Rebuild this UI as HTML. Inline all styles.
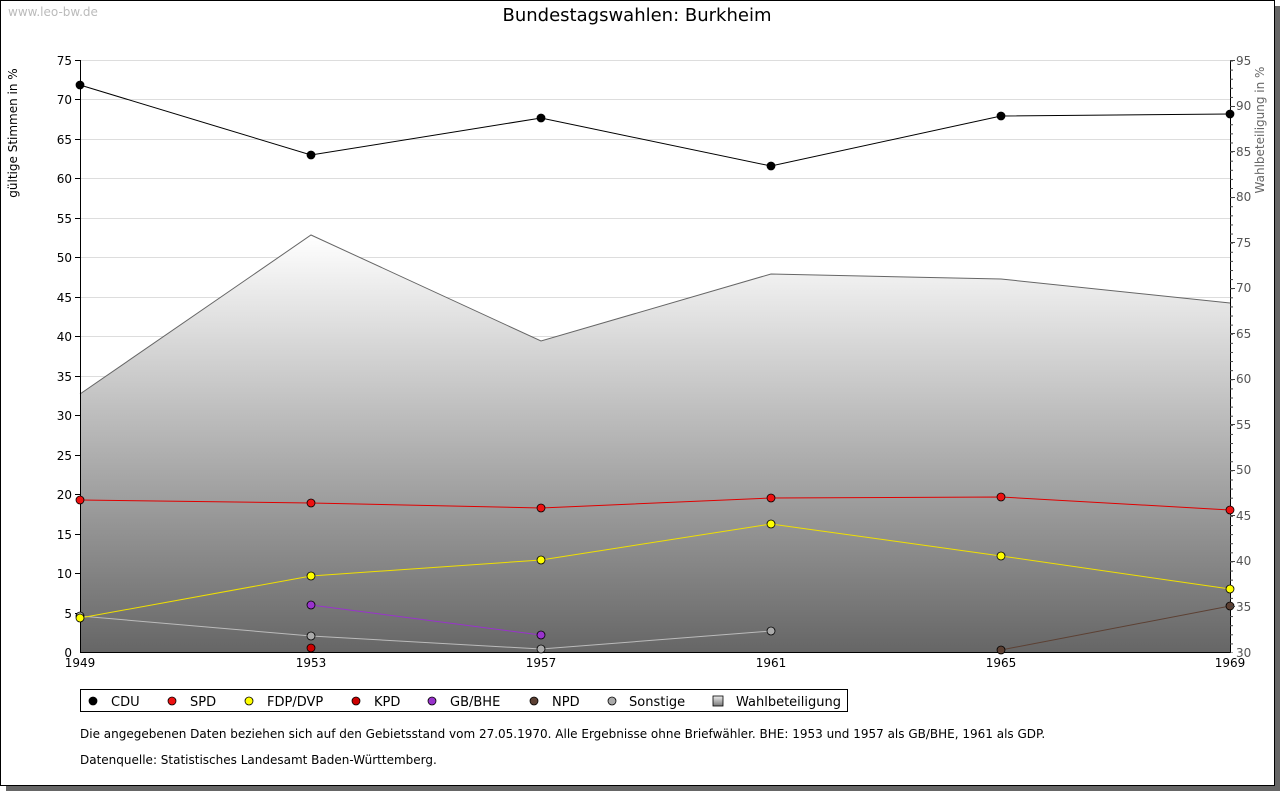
<!DOCTYPE html>
<html><head><meta charset="utf-8"><style>
html,body{margin:0;padding:0;background:#fff;}
svg{display:block;font-family:"DejaVu Sans","Liberation Sans",sans-serif;}
</style></head><body>
<svg width="1280" height="791" viewBox="0 0 1280 791" xmlns="http://www.w3.org/2000/svg">
<defs>
<linearGradient id="g" x1="0" y1="235" x2="0" y2="652" gradientUnits="userSpaceOnUse">
<stop offset="0" stop-color="#ffffff"/><stop offset="1" stop-color="#666666"/>
</linearGradient>
<linearGradient id="lg" x1="0" y1="0" x2="0" y2="1"><stop offset="0" stop-color="#eee"/><stop offset="1" stop-color="#777"/></linearGradient>
<pattern id="mt" x="1230" y="60.5" width="10" height="9.108" patternUnits="userSpaceOnUse"><line x1="0" x2="3" y1="0.5" y2="0.5" stroke="#444"/></pattern>
</defs>
<rect x="6" y="6" width="1274" height="785" fill="#666"/>
<rect x="0.5" y="0.5" width="1274" height="785" fill="#fff" stroke="#000"/>
<text x="8" y="16" font-size="12" fill="#bbb">www.leo-bw.de</text>
<text x="637" y="21" font-size="18" text-anchor="middle" fill="#000">Bundestagswahlen: Burkheim</text>
<g stroke="#ddd" stroke-width="1">
<line x1="80" x2="1230" y1="60.5" y2="60.5"/><line x1="80" x2="1230" y1="99.5" y2="99.5"/><line x1="80" x2="1230" y1="139.5" y2="139.5"/><line x1="80" x2="1230" y1="178.5" y2="178.5"/><line x1="80" x2="1230" y1="218.5" y2="218.5"/><line x1="80" x2="1230" y1="257.5" y2="257.5"/><line x1="80" x2="1230" y1="297.5" y2="297.5"/><line x1="80" x2="1230" y1="336.5" y2="336.5"/><line x1="80" x2="1230" y1="376.5" y2="376.5"/><line x1="80" x2="1230" y1="415.5" y2="415.5"/><line x1="80" x2="1230" y1="455.5" y2="455.5"/><line x1="80" x2="1230" y1="494.5" y2="494.5"/><line x1="80" x2="1230" y1="534.5" y2="534.5"/><line x1="80" x2="1230" y1="573.5" y2="573.5"/><line x1="80" x2="1230" y1="613.5" y2="613.5"/>
</g>
<polygon points="80,394 311,235 541,341 771,274 1001,279 1230,303 1230,652 80,652" fill="url(#g)"/>
<polyline points="80,394 311,235 541,341 771,274 1001,279 1230,303" fill="none" stroke="#666"/>
<line x1="80.5" y1="60" x2="80.5" y2="653" stroke="#000"/>
<line x1="80" y1="652.5" x2="1230" y2="652.5" stroke="#000"/>
<line x1="1230.5" y1="60" x2="1230.5" y2="653" stroke="#000"/>
<rect x="1230" y="60" width="3" height="593" fill="url(#mt)"/>
<g stroke="#000">
<line x1="75" x2="80" y1="60.5" y2="60.5"/><line x1="75" x2="80" y1="99.5" y2="99.5"/><line x1="75" x2="80" y1="139.5" y2="139.5"/><line x1="75" x2="80" y1="178.5" y2="178.5"/><line x1="75" x2="80" y1="218.5" y2="218.5"/><line x1="75" x2="80" y1="257.5" y2="257.5"/><line x1="75" x2="80" y1="297.5" y2="297.5"/><line x1="75" x2="80" y1="336.5" y2="336.5"/><line x1="75" x2="80" y1="376.5" y2="376.5"/><line x1="75" x2="80" y1="415.5" y2="415.5"/><line x1="75" x2="80" y1="455.5" y2="455.5"/><line x1="75" x2="80" y1="494.5" y2="494.5"/><line x1="75" x2="80" y1="534.5" y2="534.5"/><line x1="75" x2="80" y1="573.5" y2="573.5"/><line x1="75" x2="80" y1="613.5" y2="613.5"/>
</g>
<g font-size="12" fill="#000" text-anchor="end">
<text x="72" y="65">75</text><text x="72" y="104">70</text><text x="72" y="144">65</text><text x="72" y="183">60</text><text x="72" y="223">55</text><text x="72" y="262">50</text><text x="72" y="302">45</text><text x="72" y="341">40</text><text x="72" y="381">35</text><text x="72" y="420">30</text><text x="72" y="460">25</text><text x="72" y="499">20</text><text x="72" y="539">15</text><text x="72" y="578">10</text><text x="72" y="618">5</text><text x="72" y="657">0</text>
</g>
<text transform="translate(17,133) rotate(-90)" font-size="12" text-anchor="middle">gültige Stimmen in %</text>
<g font-size="12" fill="#555">
<text x="1236" y="65">95</text><text x="1236" y="110">90</text><text x="1236" y="156">85</text><text x="1236" y="201">80</text><text x="1236" y="247">75</text><text x="1236" y="292">70</text><text x="1236" y="338">65</text><text x="1236" y="383">60</text><text x="1236" y="429">55</text><text x="1236" y="474">50</text><text x="1236" y="520">45</text><text x="1236" y="565">40</text><text x="1236" y="611">35</text><text x="1236" y="657">30</text>
</g>
<text transform="translate(1264,130) rotate(-90)" font-size="12" fill="#666" text-anchor="middle">Wahlbeteiligung in %</text>
<g font-size="12" text-anchor="middle">
<text x="80" y="667">1949</text><text x="311" y="667">1953</text><text x="541" y="667">1957</text><text x="771" y="667">1961</text><text x="1001" y="667">1965</text><text x="1230" y="667">1969</text>
</g>
<polyline points="80,616 311,636 541,649 771,631" fill="none" stroke="#bbb"/>
<polyline points="311,605 541,635" fill="none" stroke="#9933cc"/>
<polyline points="1001,650 1230,606" fill="none" stroke="#5c4033"/>
<polyline points="80,618 311,576 541,560 771,524 1001,556 1230,589" fill="none" stroke="#f0e000"/>
<polyline points="80,500 311,503 541,508 771,498 1001,497 1230,510" fill="none" stroke="#e00000"/>
<polyline points="80,85 311,155 541,118 771,166 1001,116 1230,114" fill="none" stroke="#000"/>
<g stroke="#000" stroke-width="0.8">
<g fill="#aaa"><circle cx="80" cy="616" r="4"/><circle cx="311" cy="636" r="4"/><circle cx="541" cy="649" r="4"/><circle cx="771" cy="631" r="4"/></g>
<g fill="#9933cc"><circle cx="311" cy="605" r="4"/><circle cx="541" cy="635" r="4"/></g>
<g fill="#5c4033"><circle cx="1001" cy="650" r="4"/><circle cx="1230" cy="606" r="4"/></g>
<g fill="#ffff00"><circle cx="80" cy="618" r="4"/><circle cx="311" cy="576" r="4"/><circle cx="541" cy="560" r="4"/><circle cx="771" cy="524" r="4"/><circle cx="1001" cy="556" r="4"/><circle cx="1230" cy="589" r="4"/></g>
<g fill="#ee1111"><circle cx="80" cy="500" r="4"/><circle cx="311" cy="503" r="4"/><circle cx="541" cy="508" r="4"/><circle cx="771" cy="498" r="4"/><circle cx="1001" cy="497" r="4"/><circle cx="1230" cy="510" r="4"/></g>
<g fill="#cc0000"><circle cx="311" cy="648" r="4"/></g>
<g fill="#000"><circle cx="80" cy="85" r="4"/><circle cx="311" cy="155" r="4"/><circle cx="541" cy="118" r="4"/><circle cx="771" cy="166" r="4"/><circle cx="1001" cy="116" r="4"/><circle cx="1230" cy="114" r="4"/></g>
</g>
<rect x="80.5" y="689.5" width="767" height="22" fill="#fff" stroke="#000"/>
<g stroke="#000" stroke-width="0.8">
<circle cx="93" cy="701" r="4" fill="#000"/><circle cx="172" cy="701" r="4" fill="#ee1111"/><circle cx="249" cy="701" r="4" fill="#ffff00"/><circle cx="356" cy="701" r="4" fill="#cc0000"/><circle cx="432" cy="701" r="4" fill="#9933cc"/><circle cx="534" cy="701" r="4" fill="#5c4033"/><circle cx="612" cy="701" r="4" fill="#aaa"/>
<rect x="713" y="696" width="10" height="10" fill="url(#lg)"/>
</g>
<g font-size="13" fill="#000">
<text x="111" y="706">CDU</text><text x="190" y="706">SPD</text><text x="267" y="706">FDP/DVP</text><text x="374" y="706">KPD</text><text x="450" y="706">GB/BHE</text><text x="552" y="706">NPD</text><text x="629" y="706">Sonstige</text><text x="736" y="706">Wahlbeteiligung</text>
</g>
<text x="80" y="738" font-size="12">Die angegebenen Daten beziehen sich auf den Gebietsstand vom 27.05.1970. Alle Ergebnisse ohne Briefwähler. BHE: 1953 und 1957 als GB/BHE, 1961 als GDP.</text>
<text x="80" y="764" font-size="12">Datenquelle: Statistisches Landesamt Baden-Württemberg.</text>
<g stroke="#444">
<line x1="1230" x2="1235" y1="60.5" y2="60.5"/><line x1="1230" x2="1235" y1="106.5" y2="106.5"/><line x1="1230" x2="1235" y1="151.5" y2="151.5"/><line x1="1230" x2="1235" y1="197.5" y2="197.5"/><line x1="1230" x2="1235" y1="242.5" y2="242.5"/><line x1="1230" x2="1235" y1="288.5" y2="288.5"/><line x1="1230" x2="1235" y1="333.5" y2="333.5"/><line x1="1230" x2="1235" y1="379.5" y2="379.5"/><line x1="1230" x2="1235" y1="424.5" y2="424.5"/><line x1="1230" x2="1235" y1="470.5" y2="470.5"/><line x1="1230" x2="1235" y1="515.5" y2="515.5"/><line x1="1230" x2="1235" y1="561.5" y2="561.5"/><line x1="1230" x2="1235" y1="606.5" y2="606.5"/>
</g>
</svg>
</body></html>
